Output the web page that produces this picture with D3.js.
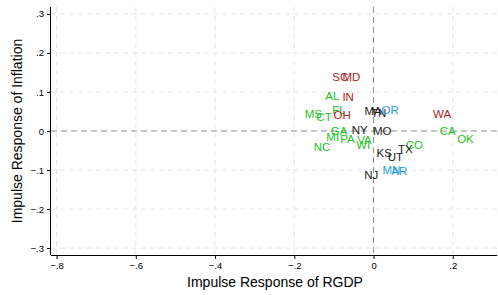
<!DOCTYPE html>
<html>
<head>
<meta charset="utf-8">
<script src="https://cdn.jsdelivr.net/npm/d3@7"></script>
<style>
  body { margin: 0; background: #fff; }
  svg { display: block; font-family: "Liberation Sans", Arial, sans-serif; }
</style>
</head>
<body>
<svg id="chart" width="498" height="295"></svg>
<script>
// 州ごとのインパルス応答 (RGDP, Inflation)
const states = ["SC","MD","AL","IN","MS","CT","FL","OH","MA","TN","OR","WA","GA","NY","MO","CA","MI","PA","VA","WI","OK","NC","CO","TX","KS","UT","MN","AR","NJ"];
const rgdp = [-0.084,-0.056,-0.104,-0.064,-0.152,-0.125,-0.087,-0.079,-0.001,0.013,0.042,0.173,-0.087,-0.035,0.022,0.187,-0.103,-0.066,-0.023,-0.026,0.232,-0.130,0.103,0.080,0.027,0.055,0.045,0.065,-0.006];
const inflation = [0.138,0.138,0.090,0.087,0.044,0.036,0.054,0.041,0.051,0.046,0.054,0.044,0.001,0.003,0.000,0.001,-0.015,-0.019,-0.022,-0.036,-0.021,-0.041,-0.036,-0.046,-0.056,-0.067,-0.100,-0.103,-0.113];
const group = ["r","r","g","r","g","g","g","r","k","k","b","r","g","k","k","g","g","g","g","g","g","g","g","k","k","k","b","b","k"];

const xTicks = [-0.8, -0.6, -0.4, -0.2, 0, 0.2];
const yTicks = [-0.3, -0.2, -0.1, 0, 0.1, 0.2, 0.3];

const colors = { r: "#ab231c", g: "#1fbf1f", b: "#2a9fd6", k: "#1a1a1a" };

const data = states.map((s, i) => ({ state: s, x: rgdp[i], y: inflation[i], g: group[i] }));

const svg = d3.select("#chart");
const pLeft = 51, pRight = 497, pTop = 7, pBottom = 255;

const x = d3.scaleLinear().domain([-0.814, 0.3116]).range([pLeft, pRight]);
const y = d3.scaleLinear().domain([-0.3177, 0.3177]).range([pBottom, pTop]);

const fmt = d => d === 0 ? "0" : d3.format(".1f")(d).replace("0.", ".").replace("-", "\u2212");

// グリッド線
svg.append("g").selectAll("line")
    .data(yTicks.filter(d => d !== 0))
    .join("line")
    .attr("x1", pLeft).attr("x2", pRight)
    .attr("y1", d => y(d)).attr("y2", d => y(d))
    .attr("stroke", "#e6e6e6").attr("stroke-dasharray", "5,4");

svg.append("g").selectAll("line")
    .data(xTicks.filter(d => d !== 0))
    .join("line")
    .attr("x1", d => x(d)).attr("x2", d => x(d))
    .attr("y1", pTop).attr("y2", pBottom)
    .attr("stroke", "#e6e6e6").attr("stroke-dasharray", "5,4");

// ゼロ線
svg.append("line")
    .attr("x1", pLeft).attr("x2", pRight)
    .attr("y1", y(0)).attr("y2", y(0))
    .attr("stroke", "#8c8c8c").attr("stroke-dasharray", "6,4");
svg.append("line")
    .attr("x1", x(0)).attr("x2", x(0))
    .attr("y1", pTop).attr("y2", pBottom)
    .attr("stroke", "#8c8c8c").attr("stroke-dasharray", "6,4");

// 軸
const xAxis = d3.axisBottom(x).tickValues(xTicks).tickFormat(fmt).tickSize(4).tickPadding(3);
const yAxis = d3.axisLeft(y).tickValues(yTicks).tickFormat(fmt).tickSize(4).tickPadding(3);

svg.append("g")
    .attr("transform", `translate(0,${pBottom})`)
    .call(xAxis)
    .call(g => g.select(".domain").attr("d", `M${pLeft},0.5H${pRight}`).attr("stroke", "#000"))
    .call(g => g.selectAll("text").attr("font-size", 9.5).attr("fill", "#000").attr("font-family", "Liberation Sans, Arial, sans-serif"));

svg.append("g")
    .attr("transform", `translate(${pLeft},0)`)
    .call(yAxis)
    .call(g => g.select(".domain").attr("d", `M-0.5,${pTop}V${pBottom}`).attr("stroke", "#000"))
    .call(g => g.selectAll("text").attr("font-size", 9.5).attr("fill", "#000").attr("font-family", "Liberation Sans, Arial, sans-serif"));

// 州ラベル
svg.append("g").selectAll("text")
    .data(data)
    .join("text")
    .attr("x", d => x(d.x))
    .attr("y", d => y(d.y))
    .attr("dy", "0.36em")
    .attr("text-anchor", "middle")
    .attr("font-size", 11.5)
    .attr("fill", d => colors[d.g])
    .text(d => d.state);

// 軸タイトル
svg.append("text")
    .attr("x", 275).attr("y", 287)
    .attr("text-anchor", "middle")
    .attr("font-size", 14)
    .text("Impulse Response of RGDP");

svg.append("text")
    .attr("transform", `translate(22,${(pTop + pBottom) / 2}) rotate(-90)`)
    .attr("text-anchor", "middle")
    .attr("font-size", 14)
    .text("Impulse Response of Inflation");
</script>
</body>
</html>
